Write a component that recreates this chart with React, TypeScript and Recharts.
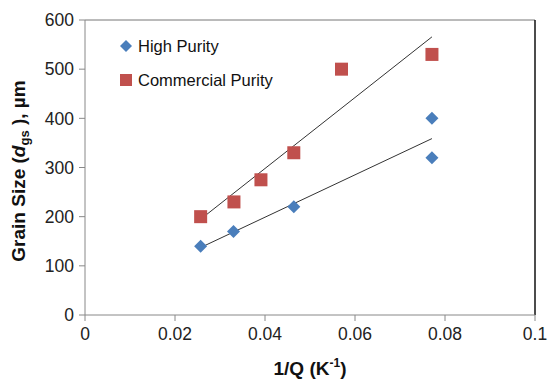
import React from "react";
import {
  ComposedChart,
  Scatter,
  XAxis,
  YAxis,
  ReferenceLine,
} from "recharts";

// 1/Q values (K^-1) and grain sizes (µm)
const highPurityX = [0.0257, 0.033, 0.0464, 0.0771, 0.0771];
const highPurityY = [140, 170, 220, 400, 320];
const commercialX = [0.0257, 0.0331, 0.0391, 0.0464, 0.057, 0.0771];
const commercialY = [200, 230, 275, 330, 500, 530];

const xTicks = [0, 0.02, 0.04, 0.06, 0.08, 0.1];
const yTicks = [0, 100, 200, 300, 400, 500, 600];

const BLUE = "#4A7EBB";
const RED = "#C0504D";
const FONT = "'Liberation Sans', Arial, Helvetica, sans-serif";

const toPoints = (xs: number[], ys: number[]) => xs.map((x, i) => ({ x, y: ys[i] }));

const highPurity = toPoints(highPurityX, highPurityY);
const commercial = toPoints(commercialX, commercialY);

// least-squares linear trend, spanning the data's x range
function trend(xs: number[], ys: number[]) {
  const n = xs.length;
  const mx = xs.reduce((a, b) => a + b, 0) / n;
  const my = ys.reduce((a, b) => a + b, 0) / n;
  let sxy = 0;
  let sxx = 0;
  for (let i = 0; i < n; i++) {
    sxy += (xs[i] - mx) * (ys[i] - my);
    sxx += (xs[i] - mx) ** 2;
  }
  const slope = sxy / sxx;
  const x0 = Math.min(...xs);
  const x1 = Math.max(...xs);
  return [
    { x: x0, y: my + slope * (x0 - mx) },
    { x: x1, y: my + slope * (x1 - mx) },
  ];
}

const Diamond = (props: any) => {
  const { cx, cy } = props;
  const r = 6.5;
  return (
    <polygon
      points={`${cx},${cy - r} ${cx + r},${cy} ${cx},${cy + r} ${cx - r},${cy}`}
      fill={BLUE}
    />
  );
};

const Square = (props: any) => {
  const { cx, cy } = props;
  const s = 13;
  return <rect x={cx - s / 2} y={cy - s / 2} width={s} height={s} fill={RED} />;
};

// in-plot legend, drawn as svg
const LegendBox = () => (
  <g fontFamily={FONT} fontSize={16.5} fill="#111">
    <polygon points="126,40 132,46 126,52 120,46" fill={BLUE} />
    <text x={138} y={51.5}>High Purity</text>
    <rect x={120} y={74} width={12} height={12} fill={RED} />
    <text x={138} y={85.5}>Commercial Purity</text>
  </g>
);

const YTitle = () => (
  <text
    transform="translate(25,171) rotate(-90)"
    textAnchor="middle"
    fontFamily={FONT}
    fontSize={19}
    fontWeight="bold"
    fill="#111"
  >
    Grain Size (<tspan fontStyle="italic">d</tspan>
    <tspan fontSize={13} dy={4}>gs</tspan>
    <tspan dy={-4}> ), µm</tspan>
  </text>
);

const XTitle = () => (
  <text
    x={310}
    y={375}
    textAnchor="middle"
    fontFamily={FONT}
    fontSize={19}
    fontWeight="bold"
    fill="#111"
  >
    1/Q (K<tspan fontSize={12} dy={-8}>-1</tspan>
    <tspan dy={8}>)</tspan>
  </text>
);

export default function App() {
  const hpTrend = trend(highPurityX, highPurityY);
  const cpTrend = trend(commercialX, commercialY);
  const tick = { fontFamily: FONT, fontSize: 17.5, fill: "#222" };
  return (
    <div style={{ position: "absolute", left: 0, top: 0 }}>
      <ComposedChart
        width={549}
        height={381}
        margin={{ top: 20, right: 14, bottom: 0, left: 0 }}
      >
        <XAxis
          type="number"
          dataKey="x"
          domain={[0, 0.1]}
          ticks={xTicks}
          tickFormatter={(v: number) => String(v)}
          stroke="#888"
          tick={tick}
          tickSize={6}
          tickMargin={7}
          height={66}
          allowDataOverflow
        />
        <YAxis
          type="number"
          dataKey="y"
          domain={[0, 600]}
          ticks={yTicks}
          stroke="#888"
          tick={tick}
          tickSize={6}
          tickMargin={5}
          width={85}
        />
        <ReferenceLine y={600} stroke="#777" strokeWidth={1} />
        <ReferenceLine x={0.1} stroke="#111" strokeWidth={1.5} />
        <ReferenceLine segment={cpTrend} stroke="#333" strokeWidth={1} />
        <ReferenceLine segment={hpTrend} stroke="#333" strokeWidth={1} />
        <Scatter
          name="Commercial Purity"
          data={commercial}
          shape={<Square />}
          isAnimationActive={false}
        />
        <Scatter
          name="High Purity"
          data={highPurity}
          shape={<Diamond />}
          isAnimationActive={false}
        />
        <LegendBox />
        <YTitle />
        <XTitle />
      </ComposedChart>
    </div>
  );
}
